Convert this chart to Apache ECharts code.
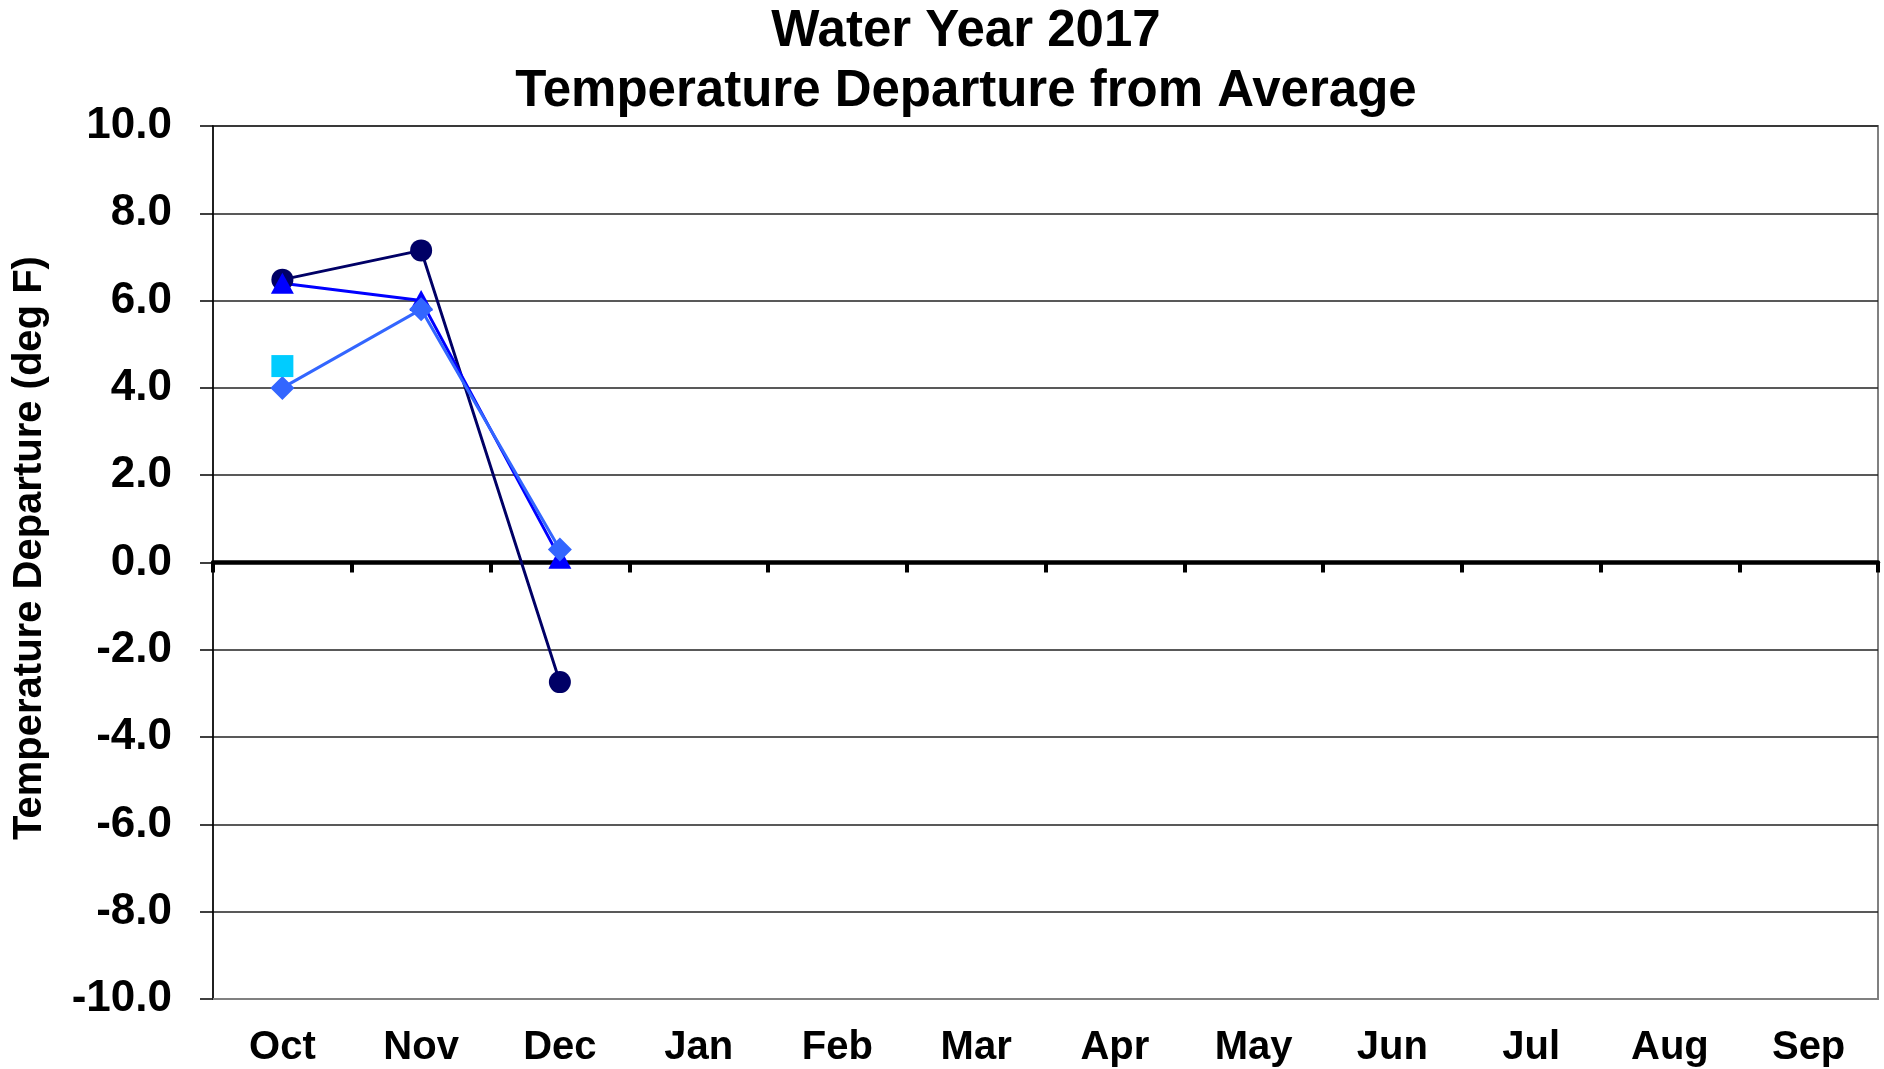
<!DOCTYPE html>
<html>
<head>
<meta charset="utf-8">
<script src="https://cdn.jsdelivr.net/npm/echarts@6/dist/echarts.min.js"></script>
<style>html,body{margin:0;padding:0;background:#fff}#c{width:1884px;height:1069px}</style>
</head>
<body>
<div id="c"></div>
<script>
var months = ['Oct','Nov','Dec','Jan','Feb','Mar','Apr','May','Jun','Jul','Aug','Sep'];
var titleLines = ['Water Year 2017', 'Temperature Departure from Average'];
var yAxisName = 'Temperature Departure (deg F)';
var yMin = -10, yMax = 10, yStep = 2;
var seriesCircle = [6.48, 7.15, -2.74, null, null, null, null, null, null, null, null, null];
var seriesTriangle = [6.4, 6.0, 0.1, null, null, null, null, null, null, null, null, null];
var seriesDiamond = [4.0, 5.8, 0.3, null, null, null, null, null, null, null, null, null];
var seriesSquare = [4.5, null, null, null, null, null, null, null, null, null, null, null];

var font = 'Liberation Sans, Arial, sans-serif';
var chart = echarts.init(document.getElementById('c'));
chart.setOption({
  animation: false,
  backgroundColor: '#fff',
  graphic: [
    { type: 'text', x: 966, y: 32, style: { text: titleLines[0], font: 'bold 51px Liberation Sans', fill: '#000', textAlign: 'center', textVerticalAlign: 'middle' } },
    { type: 'text', x: 966, y: 92, style: { text: titleLines[1], font: 'bold 51px Liberation Sans', fill: '#000', textAlign: 'center', textVerticalAlign: 'middle' } },
    { type: 'text', x: 30, y: 548, rotation: Math.PI / 2, style: { text: yAxisName, font: 'bold 40px Liberation Sans', fill: '#000', textAlign: 'center', textVerticalAlign: 'middle' } }
  ],
  grid: { left: 213, right: 6, top: 126, bottom: 70, show: true, borderColor: '#808080', borderWidth: 2, containLabel: false },
  xAxis: [
    {
      type: 'category', data: months, boundaryGap: true,
      axisLine: { onZero: true, lineStyle: { color: '#000', width: 4.5 } },
      axisTick: { show: true, length: 10, lineStyle: { color: '#000', width: 4 } },
      axisLabel: { show: false },
      splitLine: { show: false }
    },
    {
      type: 'category', data: months, boundaryGap: true, position: 'bottom',
      axisLine: { onZero: false, lineStyle: { color: '#808080', width: 2 } },
      axisTick: { show: false },
      axisLabel: { show: true, color: '#000', fontFamily: font, fontWeight: 'bold', fontSize: 40, margin: 29 },
      splitLine: { show: false }
    }
  ],
  yAxis: {
    type: 'value', min: yMin, max: yMax, interval: yStep,
    axisLine: { show: true, lineStyle: { color: '#000', width: 1.5 } },
    axisTick: { show: true, length: 13, lineStyle: { color: '#000', width: 1.5 } },
    axisLabel: { color: '#000', fontFamily: font, fontWeight: 'bold', fontSize: 44, margin: 41,
      formatter: function (v) { return v.toFixed(1); } },
    splitLine: { show: true, lineStyle: { color: '#222', width: 1.5 } }
  },
  series: [
    { name: 'Circle', type: 'line', data: seriesCircle, symbol: 'circle', symbolSize: 22,
      itemStyle: { color: '#000066' }, lineStyle: { color: '#000066', width: 3 } },
    { name: 'Triangle', type: 'line', data: seriesTriangle, symbol: 'triangle', symbolSize: [23, 21],
      itemStyle: { color: '#0000FF' }, lineStyle: { color: '#0000FF', width: 3 } },
    { name: 'Diamond', type: 'line', data: seriesDiamond, symbol: 'diamond', symbolSize: 24,
      itemStyle: { color: '#3366FF' }, lineStyle: { color: '#3366FF', width: 3 } },
    { name: 'Square', type: 'line', data: seriesSquare, symbol: 'rect', symbolSize: 22,
      itemStyle: { color: '#00CCFF' }, lineStyle: { color: '#00CCFF', width: 3 } }
  ]
});
</script>
</body>
</html>
